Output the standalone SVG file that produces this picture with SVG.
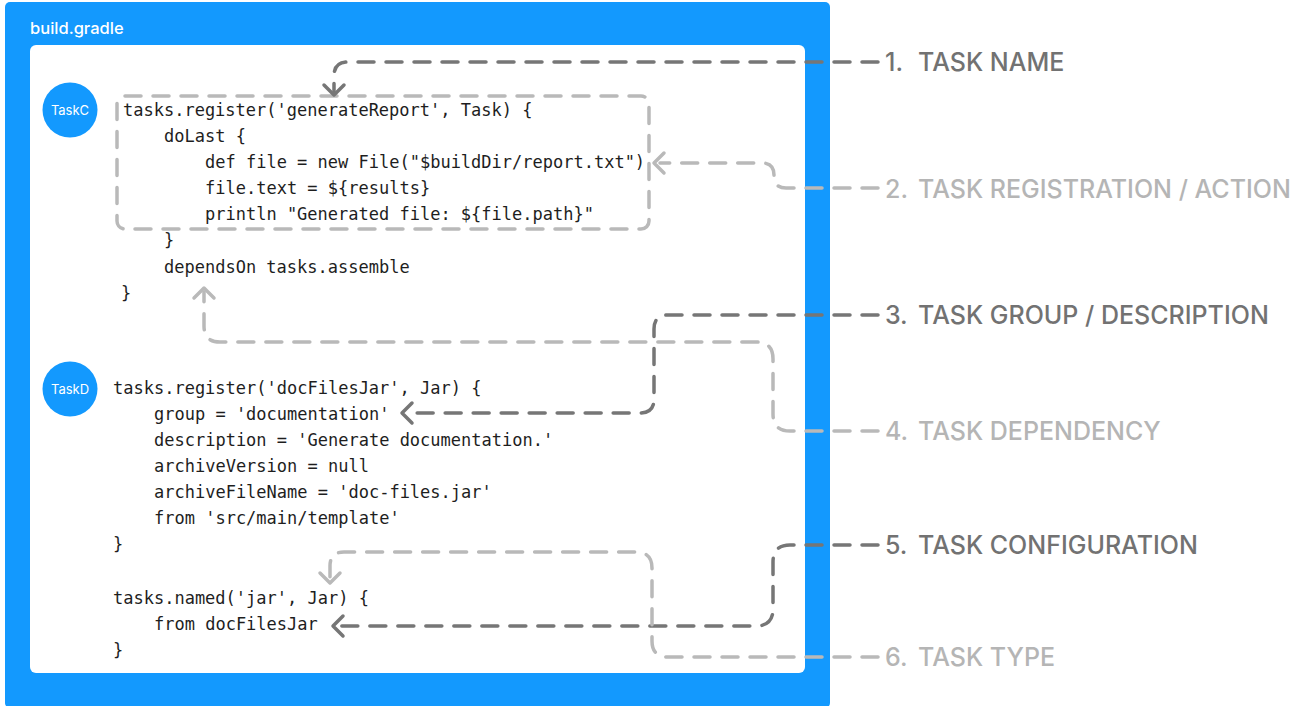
<svg xmlns="http://www.w3.org/2000/svg" width="1306" height="706" viewBox="0 0 1306 706">
<style>
.code{font-family:"DejaVu Sans Mono","Liberation Mono",monospace;font-size:17px;fill:#1e1e1e}
.lbl{font-family:Inter,"Noto Sans",sans-serif;font-size:25px;font-weight:500}
.dk{fill:#727272}
.lt{fill:#b5b5b5}
.line{fill:none;stroke-width:3.5;stroke-linecap:round;stroke-linejoin:round;stroke-dasharray:16 12}
.arr{fill:none;stroke-width:3.5;stroke-linecap:round;stroke-linejoin:round}
.sdk{stroke:#767676}
.slt{stroke:#b9b9b9}
.badge{fill:#1399FE}
.btxt{font-family:Inter,"Noto Sans",sans-serif;font-size:13px;fill:#ffffff;text-anchor:middle}
</style>
<rect width="1306" height="706" fill="#ffffff"/>
<g id="file">
<rect x="5" y="2" width="825" height="706" rx="5" fill="#1399FE"/>
<text x="30" y="34" font-family="Inter,'Noto Sans',sans-serif" font-size="16.5" font-weight="500" fill="#ffffff">build.gradle</text>
<rect x="30" y="45" width="775" height="628" rx="6" fill="#ffffff"/>
</g>
<g id="taskC">
<circle class="badge" cx="70" cy="110" r="27.5"/>
<text class="btxt" x="70" y="115">TaskC</text>
<text class="code" x="123" y="116">tasks.register('generateReport', Task) {</text>
<text class="code" x="164" y="142">doLast {</text>
<text class="code" x="205" y="168">def file = new File("$buildDir/report.txt")</text>
<text class="code" x="205" y="194">file.text = ${results}</text>
<text class="code" x="205" y="220">println "Generated file: ${file.path}"</text>
<text class="code" x="164" y="246">}</text>
<text class="code" x="164" y="273">dependsOn tasks.assemble</text>
<text class="code" x="121" y="299">}</text>
</g>
<g id="taskD">
<circle class="badge" cx="70" cy="389" r="27.5"/>
<text class="btxt" x="70" y="394">TaskD</text>
<text class="code" x="113" y="394">tasks.register('docFilesJar', Jar) {</text>
<text class="code" x="154" y="420">group = 'documentation'</text>
<text class="code" x="154" y="446">description = 'Generate documentation.'</text>
<text class="code" x="154" y="472">archiveVersion = null</text>
<text class="code" x="154" y="498">archiveFileName = 'doc-files.jar'</text>
<text class="code" x="154" y="524">from 'src/main/template'</text>
<text class="code" x="113" y="550">}</text>
<text class="code" x="113" y="604">tasks.named('jar', Jar) {</text>
<text class="code" x="154" y="630">from docFilesJar</text>
<text class="code" x="113" y="656">}</text>
</g>
<g id="highlight">
<rect class="line slt" x="117" y="96" width="532" height="133" rx="8" stroke-width="4"/>
</g>
<g id="connectors">
<path class="line sdk" d="M 878 62 H 348 Q 334 62 334 76 V 93"/>
<path class="arr sdk" d="M 324 85 L 334 95 L 344 85"/>
<path class="line slt" d="M 878 188 H 786 Q 774 188 774 176 V 175 Q 774 163 762 163 H 660"/>
<path class="arr slt" d="M 664 153 L 654 163 L 664 173"/>
<path class="line sdk" d="M 878 315 H 668 Q 654 315 654 329 V 399 Q 654 413 640 413 H 408"/>
<path class="arr sdk" d="M 412 403 L 402 413 L 412 423"/>
<path class="line slt" d="M 878 431 H 790 Q 773 431 773 414 V 359 Q 773 342 756 342 H 220 Q 204 342 204 326 V 292"/>
<path class="arr slt" d="M 194 298 L 204 288 L 214 298"/>
<path class="line sdk" d="M 878 545 H 790 Q 773 545 773 562 V 609 Q 773 626 756 626 H 340"/>
<path class="arr sdk" d="M 343 616 L 333 626 L 343 636"/>
<path class="line slt" d="M 878 657 H 668 Q 652 657 652 641 V 568 Q 652 552 636 552 H 344 Q 330 552 330 566 V 580"/>
<path class="arr slt" d="M 320 573 L 330 583 L 340 573"/>
</g>
<g id="labels">
<text class="lbl dk" y="71"><tspan x="885">1.</tspan><tspan x="918">TASK NAME</tspan></text>
<text class="lbl lt" y="198"><tspan x="885">2.</tspan><tspan x="918">TASK REGISTRATION / ACTION</tspan></text>
<text class="lbl dk" y="324"><tspan x="885">3.</tspan><tspan x="918">TASK GROUP / DESCRIPTION</tspan></text>
<text class="lbl lt" y="440"><tspan x="885">4.</tspan><tspan x="918">TASK DEPENDENCY</tspan></text>
<text class="lbl dk" y="554"><tspan x="885">5.</tspan><tspan x="918">TASK CONFIGURATION</tspan></text>
<text class="lbl lt" y="666"><tspan x="885">6.</tspan><tspan x="918">TASK TYPE</tspan></text>
</g>
</svg>
